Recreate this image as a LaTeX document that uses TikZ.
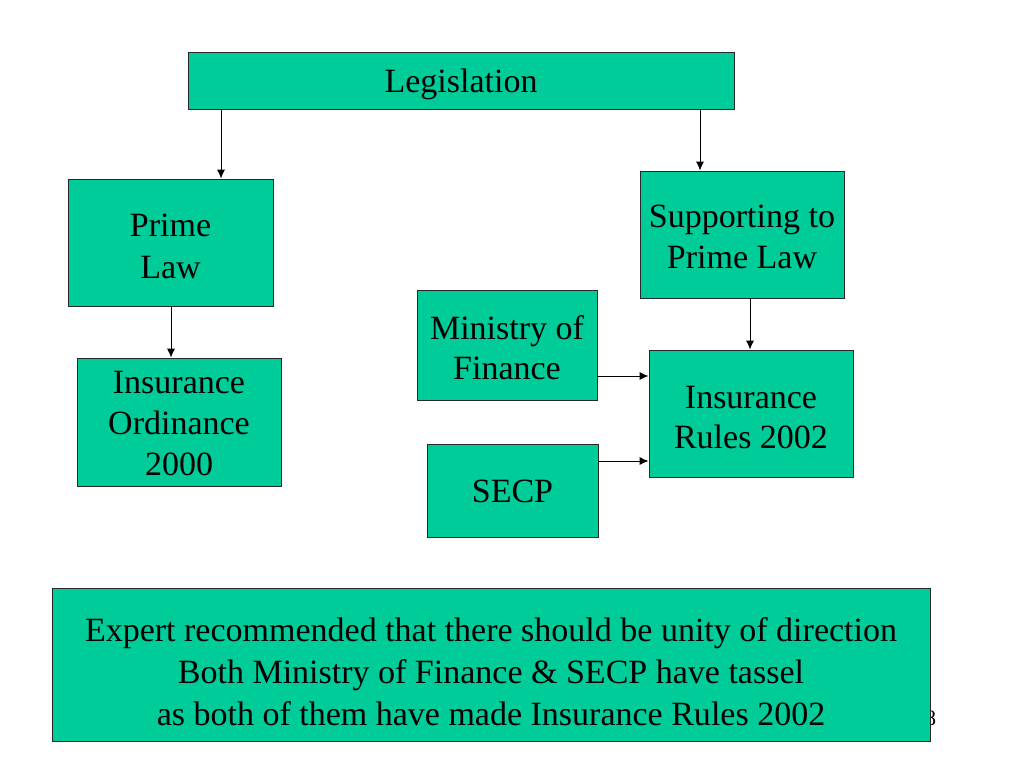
\documentclass[tikz,border=0pt]{standalone}
\usepackage{fontspec}
\setmainfont{Liberation Serif}
\usetikzlibrary{arrows.meta}
\definecolor{boxgreen}{RGB}{0,204,153}
\definecolor{boxline}{RGB}{40,40,40}
\tikzset{
  gbox/.style={draw=boxline, line width=0.9pt, fill=boxgreen, inner sep=0pt},
  txt/.style={inner sep=0pt, align=center, font=\fontsize{34}{42}\selectfont},
  conn/.style={draw=black, line width=0.9pt, -{Latex[length=9pt,width=8pt]}}
}
\begin{document}
\begin{tikzpicture}[x=1pt,y=-1pt]
\useasboundingbox (0,0) rectangle (1024,768);
\node[font=\fontsize{22}{22}\selectfont] (pnum) at (930.5,718) {8};
\node[gbox, minimum width=546pt, minimum height=57pt] (leg) at (461,80.5) {};
\node[gbox, minimum width=205pt, minimum height=127pt] (prime) at (170.5,242.5) {};
\node[gbox, minimum width=204pt, minimum height=128pt] (ord) at (179,422) {};
\node[gbox, minimum width=204pt, minimum height=127pt] (supp) at (742,234.5) {};
\node[gbox, minimum width=180pt, minimum height=110pt] (mof) at (507,345) {};
\node[gbox, minimum width=204pt, minimum height=127pt] (rules) at (751,413.5) {};
\node[gbox, minimum width=171pt, minimum height=93pt] (secp) at (512.5,490.5) {};
\node[gbox, minimum width=878pt, minimum height=153pt] (note) at (491,664.5) {};
\node[txt] (legt) at ([yshift=-4pt]leg.center) {Legislation};
\node[txt] (primet) at ([yshift=-4pt]prime.center) {Prime\\Law};
\node[txt, font=\fontsize{34}{41}\selectfont] (ordt) at ([yshift=-2pt]ord.center) {Insurance\\Ordinance\\2000};
\node[txt, font=\fontsize{34}{41}\selectfont] (suppt) at ([yshift=-2pt]supp.center) {Supporting to\\Prime Law};
\node[txt, font=\fontsize{34}{40}\selectfont] (moft) at ([yshift=-3pt]mof.center) {Ministry of\\Finance};
\node[txt, font=\fontsize{34}{40}\selectfont] (rulest) at ([yshift=-4pt]rules.center) {Insurance\\Rules 2002};
\node[txt] (secpt) at ([yshift=-1pt]secp.center) {SECP};
\node[txt] (notet) at ([yshift=-7pt]note.center)
  {Expert recommended that there should be unity of direction\\Both Ministry of Finance \& SECP have tassel\\as both of them have made Insurance Rules 2002};
\coordinate (l1) at (221,109);
\coordinate (l2) at (700,109);
\draw[conn] (l1) -- (l1 |- prime.north);
\draw[conn] (l2) -- (l2 |- supp.north);
\coordinate (p1) at (171,306);
\draw[conn] (p1) -- (p1 |- ord.north);
\coordinate (s1) at (750,298);
\draw[conn] (s1) -- (s1 |- rules.north);
\coordinate (m1) at (597,376);
\draw[conn] (m1) -- (m1 -| rules.west);
\coordinate (c1) at (598,461);
\draw[conn] (c1) -- (c1 -| rules.west);
\end{tikzpicture}
\end{document}
